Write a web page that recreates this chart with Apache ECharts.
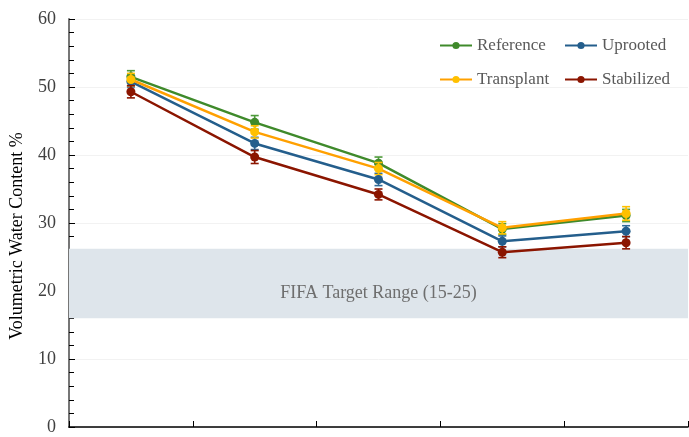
<!DOCTYPE html>
<html>
<head>
<meta charset="utf-8">
<script src="https://cdn.jsdelivr.net/npm/echarts@6/dist/echarts.min.js"></script>
<style>html,body{margin:0;padding:0;background:#fff}#c{width:689px;height:437px}</style>
</head>
<body>
<div id="c"></div>
<script>
const categories = ['T1', 'T2', 'T3', 'T4', 'T5'];
const seriesNames = ['Reference', 'Uprooted', 'Transplant', 'Stabilized'];
const reference = [51.5, 44.8, 38.8, 29.1, 31.1];
const uprooted = [50.8, 41.7, 36.4, 27.3, 28.8];
const transplant = [51.1, 43.4, 38.0, 29.3, 31.4];
const stabilized = [49.3, 39.7, 34.2, 25.7, 27.1];
const referenceErr = [0.9, 1.0, 0.9, 0.8, 0.9];
const uprootedErr = [0.8, 0.9, 0.9, 0.8, 0.8];
const transplantErr = [0.9, 0.9, 0.9, 0.9, 1.0];
const stabilizedErr = [0.9, 0.95, 0.8, 0.8, 0.9];
const bandRange = [16, 26.2];
const bandLabel = 'FIFA Target Range (15-25)';
const yTicks = [0, 10, 20, 30, 40, 50, 60];

const values = [reference, uprooted, transplant, stabilized];
const errs = [referenceErr, uprootedErr, transplantErr, stabilizedErr];
const lineColors = ['#3F8A2B', '#245E8C', '#FFA000', '#8B1500'];
const dotColors = ['#3F8A2B', '#245E8C', '#FFC000', '#8B1500'];
const barColors = ['#4E9A3A', '#2F6A98', '#FFC000', '#8B1500'];
const serif = '"Liberation Serif", "DejaVu Serif", serif';

const chart = echarts.init(document.getElementById('c'));
const series = [];
seriesNames.forEach((name, i) => {
  series.push({
    name: name,
    type: 'line',
    data: values[i],
    symbol: 'circle',
    symbolSize: 9,
    lineStyle: { color: lineColors[i], width: 2.5 },
    itemStyle: { color: dotColors[i] },
    z: 3 + i,
    animation: false,
    markArea: i === 0 ? {
      silent: true,
      itemStyle: { color: '#DEE5EB' },
      label: { show: true, position: 'inside', offset: [0, 10], color: '#6E6E6E', fontFamily: serif, fontSize: 18 },
      data: [[{ yAxis: bandRange[0], name: bandLabel }, { yAxis: bandRange[1] }]]
    } : undefined
  });
  series.push({
    name: name,
    type: 'custom',
    data: values[i].map((v, k) => [k, v - errs[i][k], v + errs[i][k]]),
    encode: { x: 0, y: [1, 2] },
    z: 2 + i,
    animation: false,
    renderItem: function (params, api) {
      const x = api.value(0);
      const lo = api.coord([x, api.value(1)]);
      const hi = api.coord([x, api.value(2)]);
      const hw = 4;
      const st = { stroke: barColors[i], lineWidth: 1.6 };
      return {
        type: 'group',
        children: [
          { type: 'line', shape: { x1: lo[0], y1: lo[1], x2: hi[0], y2: hi[1] }, style: st },
          { type: 'line', shape: { x1: lo[0] - hw, y1: lo[1], x2: lo[0] + hw, y2: lo[1] }, style: st },
          { type: 'line', shape: { x1: hi[0] - hw, y1: hi[1], x2: hi[0] + hw, y2: hi[1] }, style: st }
        ]
      };
    }
  });
});

const legendPos = [[434, 32], [559, 32], [434, 66], [559, 66]];
const legends = seriesNames.map((n, i) => ({
  data: [n],
  left: legendPos[i][0],
  top: legendPos[i][1],
  itemWidth: 32,
  itemHeight: 9,
  itemGap: 4,
  textStyle: { fontFamily: serif, fontSize: 17, color: '#595959' }
}));

chart.setOption({
  backgroundColor: '#ffffff',
  animation: false,
  legend: legends,
  grid: { left: 68, right: 1, top: 19, bottom: 10, containLabel: false },
  xAxis: {
    type: 'category',
    data: categories,
    boundaryGap: true,
    axisLine: { lineStyle: { color: '#000', width: 1.5 } },
    axisTick: { show: true, inside: true, length: 6, interval: 0, lineStyle: { color: '#000' } },
    axisLabel: { show: false },
    splitLine: { show: false }
  },
  yAxis: {
    type: 'value',
    min: yTicks[0],
    max: yTicks[yTicks.length - 1],
    interval: 10,
    name: 'Volumetric Water Content %',
    nameLocation: 'middle',
    nameGap: 43,
    nameTextStyle: { fontFamily: serif, fontSize: 18, color: '#000', padding: [0, 26, 0, 0] },
    axisLine: { show: true, lineStyle: { color: '#767676', width: 2 } },
    axisTick: { show: true, inside: true, length: 6, lineStyle: { color: '#000' } },
    minorTick: { show: true, splitNumber: 5, length: 5, lineStyle: { color: '#000' } },
    axisLabel: { fontFamily: serif, fontSize: 18, color: '#404040', margin: 13 },
    splitLine: { show: true, lineStyle: { color: '#F2F2F2', width: 1 } }
  },
  series: series
});
</script>
</body>
</html>
